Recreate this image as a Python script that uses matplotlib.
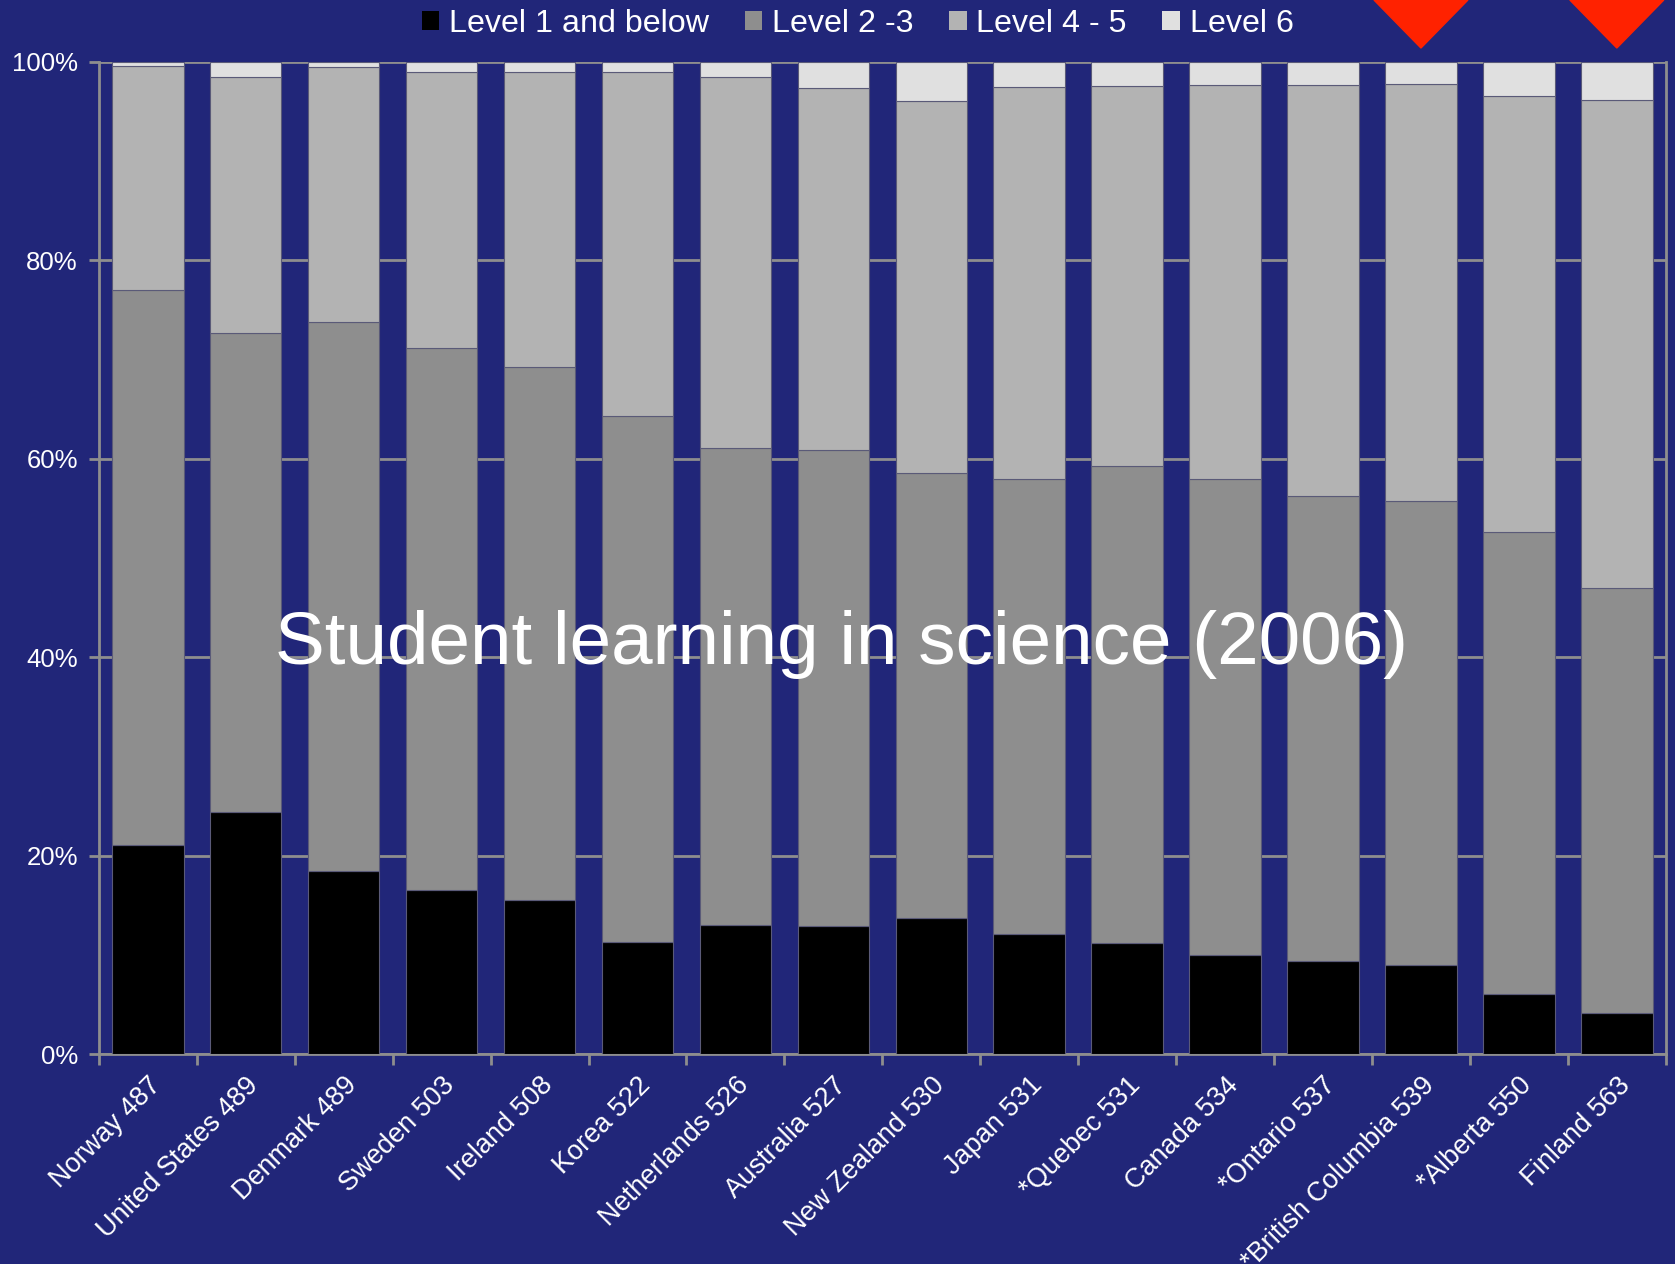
import numpy as np
import matplotlib.pyplot as plt
from matplotlib.transforms import blended_transform_factory

plt.rcParams['font.family'] = ['Liberation Sans', 'DejaVu Sans']

BG = '#212679'

COUNTRIES = [
    "Norway 487", "United States 489", "Denmark 489", "Sweden 503",
    "Ireland 508", "Korea 522", "Netherlands 526", "Australia 527",
    "New Zealand 530", "Japan 531", "*Quebec 531", "Canada 534",
    "*Ontario 537", "*British Columbia 539", "*Alberta 550", "Finland 563"
]
LEVEL_1 = [21.1, 24.4, 18.5, 16.5, 15.5, 11.3, 13.0, 12.9, 13.7, 12.1, 11.2, 10.0, 9.4, 9.0, 6.1, 4.1]
LEVEL_23 = [55.9, 48.3, 55.3, 54.7, 53.8, 53.0, 48.1, 48.0, 44.9, 45.9, 48.1, 48.0, 46.9, 46.8, 46.5, 42.9]
LEVEL_45 = [22.6, 25.8, 25.7, 27.8, 29.7, 34.7, 37.4, 36.5, 37.5, 39.5, 38.3, 39.7, 41.4, 42.0, 44.0, 49.2]
LEVEL_6 = [0.4, 1.5, 0.5, 1.0, 1.0, 1.0, 1.5, 2.6, 3.9, 2.5, 2.4, 2.3, 2.3, 2.2, 3.4, 3.8]
LABELS = ["Level 1 and below", "Level 2 -3", "Level 4 - 5", "Level 6"]
COLOURS = ['#000000', '#8e8e8e', '#b3b3b3', '#e0e0e0']
ARROWED = ["*British Columbia 539", "Finland 563"]

fig = plt.figure(figsize=(16.75, 12.64), dpi=100, facecolor=BG)
ax = fig.add_axes([0.059, 0.166, 0.9355, 0.785], facecolor=BG)

x = np.arange(len(COUNTRIES))
bottom = np.zeros(len(COUNTRIES))
for vals, lab, col in zip([LEVEL_1, LEVEL_23, LEVEL_45, LEVEL_6], LABELS, COLOURS):
    vals = np.array(vals)
    ax.bar(x, vals, 0.73, bottom=bottom, color=col, label=lab,
           edgecolor='#5a5a78', linewidth=0.8, zorder=3)
    bottom += vals

ax.set_xlim(-0.5, len(COUNTRIES) - 0.5)
ax.set_ylim(0, 100)
ax.set_yticks(np.arange(0, 101, 20))
ax.set_yticklabels(["{}%".format(v) for v in range(0, 101, 20)])
ax.grid(axis='y', color='#8e8e8e', linewidth=2, zorder=1)
ax.set_axisbelow(True)

ax.set_xticks(x)
ax.set_xticklabels(COUNTRIES, rotation=45, ha='right', rotation_mode='anchor')
ax.set_xticks(np.arange(-0.5, len(COUNTRIES)), minor=True)
ax.tick_params(axis='x', which='major', length=0, pad=13, colors='white', labelsize=19.5)
ax.tick_params(axis='x', which='minor', length=8, width=2, color='#8e8e8e', direction='out')
ax.tick_params(axis='y', length=7, width=2, color='#8e8e8e', labelcolor='white', labelsize=18.5, pad=8)

for s in ax.spines.values():
    s.set_color('#8e8e8e')
    s.set_linewidth(2)
ax.spines['top'].set_visible(False)

leg = fig.legend(loc='center', bbox_to_anchor=(0.512, 0.981), ncol=4, frameon=False,
                 fontsize=23.2, labelcolor='white', handlelength=0.55, handleheight=0.55,
                 handletextpad=0.3, columnspacing=1.1)
for h in leg.legend_handles:
    h.set_edgecolor('none')

ax.text(0.474, 0.413, "Student learning in science (2006)", transform=ax.transAxes,
        ha='center', va='center', color='white', fontsize=53.8, zorder=5)

# red arrows pointing at highlighted bars
tr = blended_transform_factory(ax.transData, fig.transFigure)
for name in ARROWED:
    i = COUNTRIES.index(name)
    ax.fill([i - 0.48, i + 0.48, i], [1.0, 1.0, 0.962], color='#ff2200',
            transform=tr, clip_on=False, zorder=6)

fig.savefig('out.png', dpi=100, facecolor=BG)
